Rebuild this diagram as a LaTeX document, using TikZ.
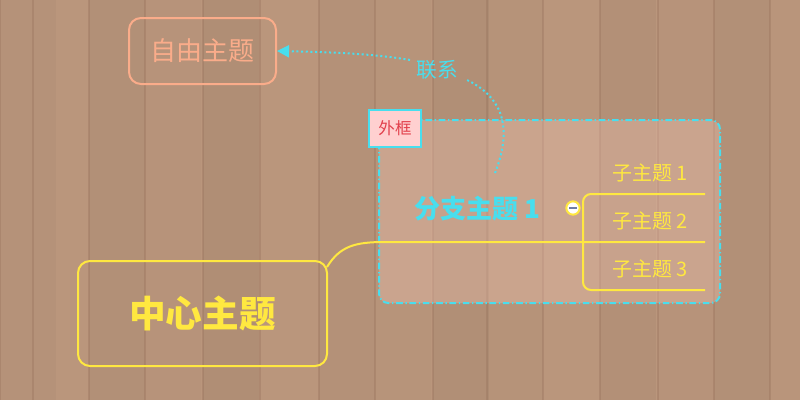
\documentclass[tikz,border=0pt]{standalone}
\usepackage{fontspec}
\setmainfont{Noto Sans CJK SC}
\usepackage{tikz}
\usetikzlibrary{arrows.meta}
\definecolor{wood}{RGB}{186,150,124}
\definecolor{woodline}{RGB}{150,112,90}
\definecolor{topicyellow}{RGB}{255,232,64}
\definecolor{relcyan}{RGB}{72,222,238}
\definecolor{freesalmon}{RGB}{250,172,138}
\definecolor{labelpink}{RGB}{255,208,208}
\definecolor{labelred}{RGB}{226,64,76}
\tikzset{
  topicbox/.style={draw, line width=1.5, rounded corners=9pt, inner sep=0pt},
  subtext/.style={text=topicyellow, font=\fontsize{15}{15}\selectfont, inner sep=0.75pt},
}

\begin{document}
\begin{tikzpicture}[x=0.75pt,y=0.75pt,yscale=-1,xscale=1]
\useasboundingbox (0,0) rectangle (800,400);

%Background: wooden planks
\fill [wood] (0,0) rectangle (800,400);
\foreach \px/\shade in {0/5,33/0,89/8,145/3,203/10,260/0,319/6,375/2,433/9,487/4,543/0,600/7,658/3,714/8,770/1} {
  \fill [black, opacity=0.005*\shade] (\px,0) rectangle (\px+56,400);
  \draw [woodline, opacity=0.35, line width=1] (\px,0) -- (\px,400);
}

%Shape: Boundary [外框]
\draw [color=relcyan, line width=1.5, dash pattern=on 5pt off 2pt on 1pt off 2pt, rounded corners=7pt, fill={rgb,255:red,240;green,196;blue,180}, fill opacity=0.35] (379,120) rectangle (720,303);

% Text Node
\node (framelabel) at (395,128.5) [draw=relcyan, line width=1.5, fill=labelpink, minimum width=39pt, minimum height=27.75pt, inner sep=0pt, text=labelred, font=\fontsize{12.4}{12.4}\selectfont] {外框};

% Text Node
\node (free) at (202.5,51) [topicbox, draw=freesalmon, minimum width=110.25pt, minimum height=49.5pt, text=freesalmon, font=\fontsize{19.5}{19.5}\selectfont] {自由主题};
% Text Node
\node (central) at (202.5,313.5) [topicbox, draw=topicyellow, minimum width=186.75pt, minimum height=78.75pt, text=topicyellow, font=\fontsize{27.5}{27.5}\selectfont\bfseries] {中心主题};
% Text Node
\node (branch) at (477,209) [inner sep=0.75pt, text=relcyan, font=\fontsize{19.5}{19.5}\selectfont\bfseries] {分支主题 1};
% Text Node
\node (sub1) at (650,173) [subtext] {子主题 1};
% Text Node
\node (sub2) at (650,221) [subtext] {子主题 2};
% Text Node
\node (sub3) at (650,269) [subtext] {子主题 3};
% Text Node
\node (rel) at (437,70) [inner sep=0.75pt, text=relcyan, font=\fontsize{15.5}{15.5}\selectfont] {联系};

%Curve Lines: branch line from central topic
\coordinate (cstart) at (327,267);
\coordinate (split) at (583,242);
\draw [topicyellow, line width=1.5] (cstart) .. controls (340,246) and (355,242) .. (385,242) -- (split) -- (705,242);
%Straight Lines: subtopic bracket
\draw [topicyellow, line width=1.5, rounded corners=6pt] (705,194) -| (split) |- (705,290);

%Shape: Circle (collapse)
\node (fold) at (573,208) [circle, draw=topicyellow, fill=white, line width=1.5, minimum size=10pt, inner sep=0pt] {};
\draw [color={rgb,255:red,110;green,125;blue,165}, line width=1.2] ([xshift=-2.7pt]fold.center) -- ([xshift=2.7pt]fold.center);

%Curve Lines: relationship
\coordinate (relstart) at (495,173);
\draw [relcyan, line width=1.5, dotted] (relstart) .. controls (515,122) and (498,95) .. (467,80);
\draw [relcyan, line width=1.5, dotted, -{Triangle[length=9pt,width=9pt]}] (410,60) .. controls (370,53) and (320,52) .. (free.east);

\end{tikzpicture}
\end{document}
